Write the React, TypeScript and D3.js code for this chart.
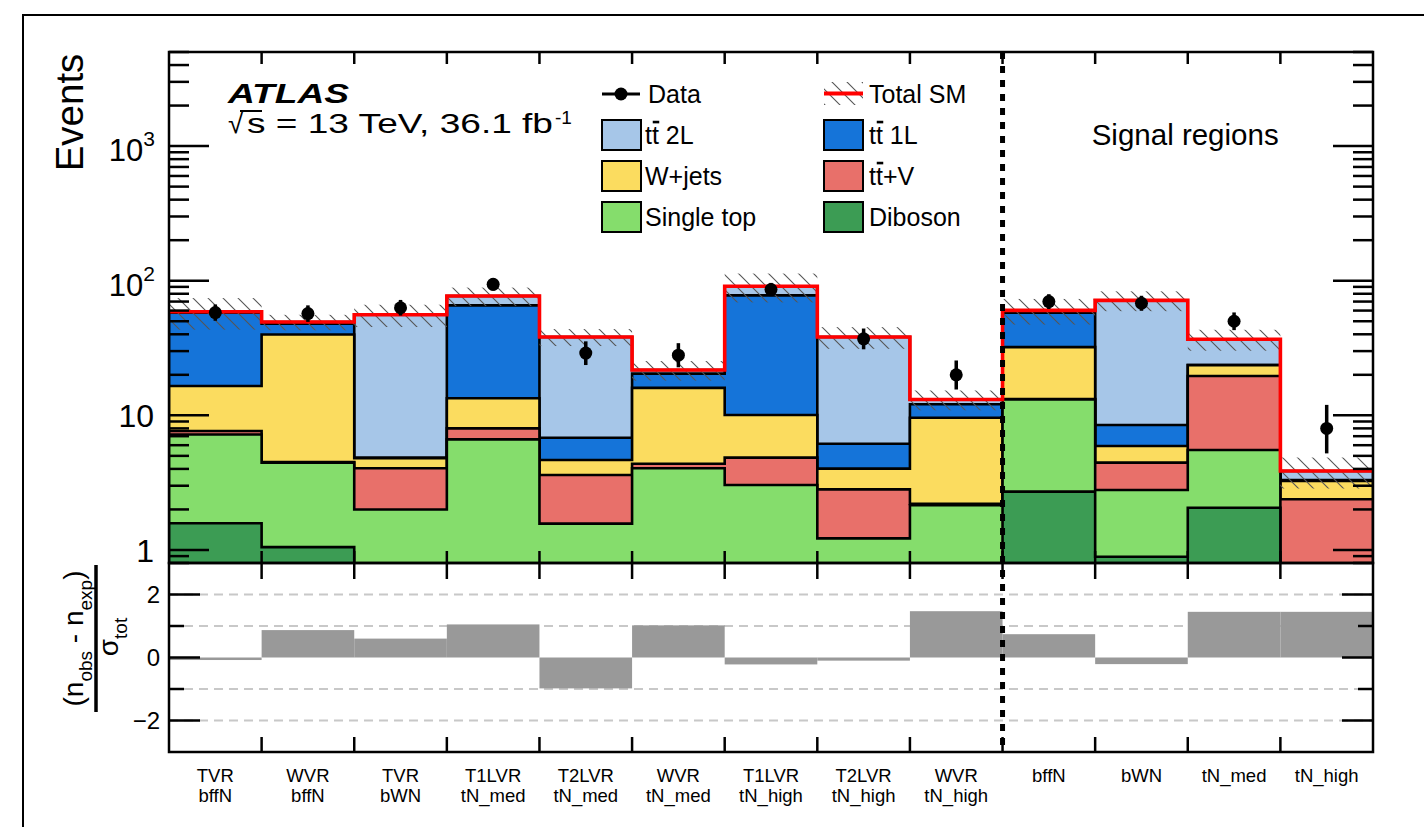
import React from 'react';
import * as d3 from 'd3';

// Region names (first and second label line)
const regionLine1 = ['TVR', 'WVR', 'TVR', 'T1LVR', 'T2LVR', 'WVR', 'T1LVR', 'T2LVR', 'WVR', 'bffN', 'bWN', 'tN_med', 'tN_high'];
const regionLine2 = ['bffN', 'bffN', 'bWN', 'tN_med', 'tN_med', 'tN_med', 'tN_high', 'tN_high', 'tN_high', '', '', '', ''];

// Expected background yields per region
const diboson = [1.58, 1.05, 0, 0, 0, 0, 0, 0, 0, 2.71, 0.89, 2.06, 0];
const singleTop = [5.62, 3.4, 2.0, 6.63, 1.57, 4.04, 3.04, 1.22, 2.15, 10.39, 1.9, 3.47, 0.3];
const ttV = [0.45, 0.05, 2.04, 1.37, 2.03, 0.33, 1.81, 1.6, 0.05, 0.1, 1.66, 14.07, 2.08];
const wJets = [8.85, 35.4, 0.76, 5.4, 1.06, 11.63, 5.2, 1.2, 7.4, 18.9, 1.47, 4.0, 0.87];
const tt1L = [41.3, 8.0, 0.05, 52.2, 2.16, 4.4, 67.75, 2.13, 2.5, 25.7, 2.55, 0.05, 0.05];
const tt2L = [1.0, 1.4, 50.95, 11.3, 31.4, 1.3, 13.2, 32.05, 1.0, 2.4, 62.93, 13.05, 0.56];

// Total background uncertainty (events)
const totalUnc = [15.5, 6.5, 10.5, 12, 5.5, 3.6, 22, 7, 2.2, 13, 12, 6.5, 1.0];

// Observed events
const observed = [58, 57, 63, 94, 29, 28, 86, 37, 20, 70, 68, 50, 8];

// (n_obs - n_exp) / sigma_tot
const significance = [-0.08, 0.87, 0.6, 1.05, -0.98, 1.02, -0.22, -0.1, 1.47, 0.74, -0.21, 1.45, 1.45];

const nValidation = 9;
const logMajor = [1, 10, 100, 1000];
const ratioTicks = [-2, -1, 0, 1, 2];

const layers = [
  { name: 'Diboson', values: diboson, color: '#3c9c54' },
  { name: 'Single top', values: singleTop, color: '#85dd6c' },
  { name: 'ttV', values: ttV, color: '#e8706a' },
  { name: 'W+jets', values: wJets, color: '#fbdc5f' },
  { name: 'tt1L', values: tt1L, color: '#1574d9' },
  { name: 'tt2L', values: tt2L, color: '#a6c6e8' },
];

const FONT = "'Liberation Sans', Arial, Helvetica, sans-serif";

const L = 169, R = 1373, T = 52, B = 563, RB = 752;

export default function App() {
  const n = observed.length;
  const x = d3.scaleLinear().domain([0, n]).range([L, R]);
  const y = d3.scaleLog().domain([0.8, 5000]).range([B, T]);
  const r = d3.scaleLinear().domain([-3, 3]).range([RB, B]);
  const ySafe = (v: number) => y(Math.max(v, 1e-3));

  // cumulative stacks
  const cumulative: number[][] = [];
  layers.forEach((ly, li) => {
    cumulative.push(ly.values.map((v, i) => v + (li > 0 ? cumulative[li - 1][i] : 0)));
  });
  const total = cumulative[cumulative.length - 1];

  const stepPath = (vals: number[]) => {
    const p = d3.path();
    p.moveTo(x(0), ySafe(1e-3));
    vals.forEach((v, i) => {
      p.lineTo(x(i), ySafe(v));
      p.lineTo(x(i + 1), ySafe(v));
    });
    p.lineTo(x(n), ySafe(1e-3));
    p.closePath();
    return p.toString();
  };

  const totalLine = d3
    .line<[number, number]>()
    .x((d) => d[0])
    .y((d) => d[1])
    .curve(d3.curveStepAfter)(
    [...total.map((v, i) => [x(i), y(v)] as [number, number]), [x(n), y(total[n - 1])]]
  );

  const logTicks = d3
    .range(-1, 4)
    .flatMap((e) => d3.range(1, 10).map((k) => +(k * Math.pow(10, e)).toPrecision(3)))
    .filter((v) => v >= 0.8 && v <= 5000);

  const edges = d3.range(1, n);

  const legendLeft = [
    { label: 'tt2L', color: '#a6c6e8', text: ' 2L', tt: true },
    { label: 'W+jets', color: '#fbdc5f', text: 'W+jets', tt: false },
    { label: 'Single top', color: '#85dd6c', text: 'Single top', tt: false },
  ];
  const legendRight = [
    { label: 'tt1L', color: '#1574d9', text: ' 1L', tt: true },
    { label: 'ttV', color: '#e8706a', text: '+V', tt: true },
    { label: 'Diboson', color: '#3c9c54', text: 'Diboson', tt: false },
  ];
  const rowY = [94, 135, 176, 217];
  const legFs = 25;

  const legendEntry = (e: any, bx: number, tx: number, cy: number) => (
    <g key={e.label}>
      <rect x={bx} y={cy - 15} width={39} height={30} fill={e.color} stroke="#000" strokeWidth={2} />
      {e.tt ? (
        <g>
          <text x={tx} y={cy + 9} fontSize={legFs}>{'tt' + e.text}</text>
          <rect x={tx + 0.31 * legFs} y={cy + 9 - 0.93 * legFs} width={0.26 * legFs} height={2.6} fill="#000" />
        </g>
      ) : (
        <text x={tx} y={cy + 9} fontSize={legFs}>{e.text}</text>
      )}
    </g>
  );

  return (
    <svg
      width={1424}
      height={827}
      style={{ position: 'absolute', left: 0, top: 0, background: '#fff' }}
      fontFamily={FONT}
    >
      <defs>
        <clipPath id="mainClip">
          <rect x={L} y={T} width={R - L} height={B - T} />
        </clipPath>
        <clipPath id="ratioClip">
          <rect x={L} y={B} width={R - L} height={RB - B} />
        </clipPath>
        <pattern id="hatch" patternUnits="userSpaceOnUse" width={15} height={15}>
          <path d="M0,0L15,15M-3,12L3,18M12,-3L18,3" stroke="#555" strokeWidth={1.1} />
        </pattern>
      </defs>

      <rect x={0} y={0} width={1424} height={827} fill="#fff" />
      <rect x={23} y={15} width={1440} height={900} fill="none" stroke="#000" strokeWidth={2} />

      {/* stacked backgrounds */}
      <g clipPath="url(#mainClip)">
        {cumulative
          .map((vals, li) => (
            <path key={layers[li].name} d={stepPath(vals)} fill={layers[li].color} stroke="#000" strokeWidth={2.6} strokeLinejoin="miter" />
          ))
          .reverse()}
        {/* uncertainty band */}
        {total.map((v, i) => (
          <rect
            key={'unc' + i}
            x={x(i)}
            width={x(i + 1) - x(i)}
            y={y(v + totalUnc[i])}
            height={y(Math.max(v - totalUnc[i], 0.5)) - y(v + totalUnc[i])}
            fill="url(#hatch)"
          />
        ))}
        <path d={totalLine || ''} fill="none" stroke="#ff0000" strokeWidth={3.6} />
      </g>

      {/* data points */}
      {observed.map((v, i) => {
        const hi = v + 1 + Math.sqrt(v + 0.75);
        const lo = v - Math.sqrt(v - 0.25);
        const cx = x(i + 0.5);
        return (
          <g key={'d' + i}>
            <line x1={cx} x2={cx} y1={y(hi)} y2={y(lo)} stroke="#000" strokeWidth={3.5} />
            <circle cx={cx} cy={y(v)} r={6.5} fill="#000" />
          </g>
        );
      })}

      {/* main panel axes */}
      {logTicks.map((v) => {
        const major = logMajor.includes(v);
        const len = major ? 40 : 20;
        return (
          <g key={'lt' + v}>
            <line x1={L} x2={L + len} y1={y(v)} y2={y(v)} stroke="#000" strokeWidth={2.5} />
            <line x1={R} x2={R - len} y1={y(v)} y2={y(v)} stroke="#000" strokeWidth={2.5} />
          </g>
        );
      })}
      {edges.map((e) => (
        <g key={'xt' + e}>
          <line x1={x(e)} x2={x(e)} y1={T} y2={T + 12} stroke="#000" strokeWidth={2.5} />
          <line x1={x(e)} x2={x(e)} y1={B} y2={B - 12} stroke="#000" strokeWidth={2.5} />
          <line x1={x(e)} x2={x(e)} y1={B} y2={B + 16} stroke="#000" strokeWidth={2.5} />
          <line x1={x(e)} x2={x(e)} y1={RB} y2={RB - 15} stroke="#000" strokeWidth={2.5} />
        </g>
      ))}
      <rect x={L} y={T} width={R - L} height={B - T} fill="none" stroke="#000" strokeWidth={2.5} />

      {/* y tick labels */}
      {logMajor.map((v) => {
        const exp = Math.round(Math.log10(v));
        if (exp <= 1) {
          return (
            <text key={'yl' + v} x={154} y={y(v) + 12} fontSize={32} textAnchor="end">
              {String(v)}
            </text>
          );
        }
        return (
          <text key={'yl' + v} x={155} y={y(v) + 15} fontSize={31} textAnchor="end">
            10
            <tspan fontSize={21} dy={-15}>{String(exp)}</tspan>
          </text>
        );
      })}

      <text transform={`translate(83, 112.5) rotate(-90)`} fontSize={38.5} textAnchor="middle">
        Events
      </text>

      {/* ratio panel */}
      {ratioTicks
        .filter((t) => t !== 0)
        .map((t) => (
          <line key={'rg' + t} x1={L} x2={R} y1={r(t)} y2={r(t)} stroke="#c8c8c8" strokeWidth={2} strokeDasharray="9 6" />
        ))}
      <g clipPath="url(#ratioClip)">
        {significance.map((s, i) => (
          <rect
            key={'rs' + i}
            x={x(i)}
            width={x(i + 1) - x(i)}
            y={Math.min(r(s), r(0))}
            height={Math.abs(r(s) - r(0))}
            fill="#999999"
          />
        ))}
      </g>
      {ratioTicks.map((t) => {
        const len = t % 2 === 0 ? 31 : 15;
        return (
          <g key={'rt' + t}>
            <line x1={L} x2={L + len} y1={r(t)} y2={r(t)} stroke="#000" strokeWidth={2.5} />
            <line x1={R} x2={R - len} y1={r(t)} y2={r(t)} stroke="#000" strokeWidth={2.5} />
          </g>
        );
      })}
      {ratioTicks
        .filter((t) => t % 2 === 0)
        .map((t) => (
          <text key={'rl' + t} x={160} y={r(t) + 8.5} fontSize={24} textAnchor="end">
            {t < 0 ? '\u2212' + Math.abs(t) : String(t)}
          </text>
        ))}
      <rect x={L} y={B} width={R - L} height={RB - B} fill="none" stroke="#000" strokeWidth={2.5} />

      {/* ratio y title */}
      <g transform="translate(83, 638.5) rotate(-90)">
        <text x={0} y={0} fontSize={28} textAnchor="middle">
          (n
          <tspan fontSize={19} dy={9}>obs</tspan>
          <tspan dy={-9}> - n</tspan>
          <tspan fontSize={19} dy={9}>exp</tspan>
          <tspan dy={-9}>)</tspan>
        </text>
      </g>
      <line x1={96} x2={96} y1={565} y2={712} stroke="#000" strokeWidth={3.5} />
      <g transform="translate(118, 637) rotate(-90)">
        <text x={0} y={0} fontSize={28} textAnchor="middle">
          σ<tspan fontSize={19} dy={9}>tot</tspan>
        </text>
      </g>

      {/* control / signal separator */}
      <line x1={x(nValidation)} x2={x(nValidation)} y1={T} y2={RB} stroke="#000" strokeWidth={5} strokeDasharray="7 7" />

      {/* region labels */}
      {regionLine1.map((lab, i) => (
        <g key={'xl' + i}>
          <text x={x(i + 0.5)} y={782} fontSize={18.5} textAnchor="middle">{lab}</text>
          {regionLine2[i] ? (
            <text x={x(i + 0.5)} y={802} fontSize={18.5} textAnchor="middle">{regionLine2[i]}</text>
          ) : null}
        </g>
      ))}

      {/* ATLAS label */}
      <text x={228} y={102.7} fontSize={28} fontWeight="bold" fontStyle="italic" textLength={121} lengthAdjust="spacingAndGlyphs">
        ATLAS
      </text>
      <text x={228} y={132.7} fontSize={28}>√</text>
      <line x1={240} x2={262} y1={111} y2={111} stroke="#000" strokeWidth={2} />
      <text x={247} y={132.7} fontSize={28} textLength={306} lengthAdjust="spacingAndGlyphs">
        s = 13 TeV, 36.1 fb
      </text>
      <text x={555} y={124} fontSize={19}>-1</text>

      <text x={1091.7} y={145} fontSize={29.5}>Signal regions</text>

      {/* legend */}
      <line x1={602} x2={640} y1={rowY[0]} y2={rowY[0]} stroke="#000" strokeWidth={3.2} />
      <circle cx={621} cy={rowY[0]} r={6.5} fill="#000" />
      <text x={648} y={rowY[0] + 9} fontSize={legFs}>Data</text>

      <rect x={824} y={82} width={39} height={23} fill="url(#hatch)" />
      <line x1={824} x2={863} y1={rowY[0] - 0.5} y2={rowY[0] - 0.5} stroke="#ff0000" strokeWidth={4} />
      <text x={869} y={rowY[0] + 9} fontSize={legFs}>Total SM</text>

      {legendLeft.map((e, k) => legendEntry(e, 602, 645, rowY[k + 1]))}
      {legendRight.map((e, k) => legendEntry(e, 824, 869, rowY[k + 1]))}
    </svg>
  );
}
